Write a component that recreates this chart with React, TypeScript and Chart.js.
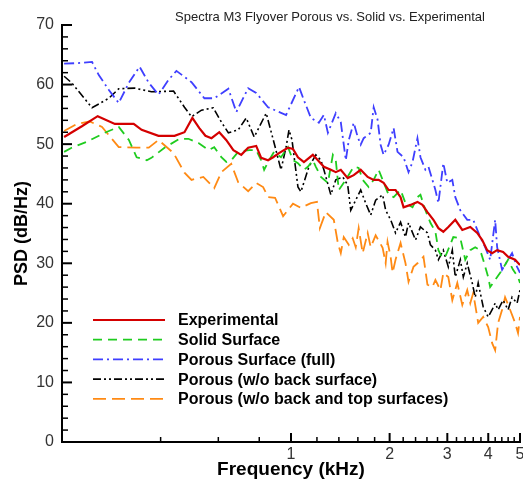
import React, { useEffect, useRef } from 'react';
import { Chart, registerables } from 'chart.js';

Chart.register(...registerables);

const FONT = '"Liberation Sans", Arial, Helvetica, sans-serif';

const chartTitle = 'Spectra M3 Flyover Porous vs. Solid vs. Experimental';
const xTitle = 'Frequency (kHz)';
const yTitle = 'PSD (dB/Hz)';

const seriesNames = [
  'Experimental',
  'Solid Surface',
  'Porous Surface (full)',
  'Porous (w/o back surface)',
  'Porous (w/o back and top surfaces)',
];

const xTickValues = [0.4, 0.6, 0.8, 1, 1.2, 1.4, 1.6, 1.8, 2, 2.2, 2.4, 2.6, 2.8, 3, 3.2, 3.4, 3.6, 3.8, 4, 4.2, 4.4, 4.6, 4.8, 5];
const xTickLabels = ['', '', '', '1', '', '', '', '', '2', '', '', '', '', '3', '', '', '', '', '4', '', '', '', '', '5'];
const yTickValues = [0, 2, 4, 6, 8, 10, 12, 14, 16, 18, 20, 22, 24, 26, 28, 30, 32, 34, 36, 38, 40, 42, 44, 46, 48, 50, 52, 54, 56, 58, 60, 62, 64, 66, 68, 70];
const yTickLabels = yTickValues.map((v) => (v % 10 === 0 ? String(v) : ''));

// Experimental
const expFreq = [0.203, 0.230, 0.257, 0.290, 0.331, 0.350, 0.394, 0.441, 0.473, 0.500, 0.525, 0.548, 0.572, 0.604, 0.634, 0.667, 0.705, 0.740, 0.783, 0.811, 0.851, 0.882, 0.919, 0.979, 1.014, 1.050, 1.095, 1.166, 1.208, 1.260, 1.323, 1.370, 1.419, 1.490, 1.554, 1.632, 1.714, 1.788, 1.851, 1.917, 1.986, 2.085, 2.160, 2.206, 2.316, 2.432, 2.519, 2.609, 2.721, 2.818, 2.917, 3.021, 3.173, 3.333, 3.525, 3.702, 3.834, 3.970, 4.111, 4.258, 4.440, 4.599, 4.830, 5.0];
const expPsd = [51.2, 53.0, 54.7, 53.4, 53.4, 52.4, 51.4, 51.4, 52.0, 54.4, 52.7, 51.4, 51.0, 52.0, 50.7, 49.0, 48.2, 49.4, 49.7, 47.7, 47.3, 47.8, 48.5, 49.4, 49.2, 47.8, 47.0, 48.2, 47.3, 46.2, 45.7, 45.3, 45.7, 44.3, 44.8, 45.7, 44.5, 44.0, 44.0, 43.5, 42.3, 42.3, 41.1, 39.4, 39.8, 40.3, 39.8, 38.6, 37.3, 35.9, 35.3, 36.1, 37.3, 35.6, 36.1, 35.1, 33.9, 32.2, 31.7, 32.2, 31.9, 31.1, 30.6, 29.7];

// Solid Surface
const solidFreq = [0.203, 0.214, 0.238, 0.270, 0.298, 0.320, 0.338, 0.363, 0.375, 0.411, 0.457, 0.486, 0.522, 0.560, 0.583, 0.613, 0.635, 0.657, 0.690, 0.745, 0.783, 0.811, 0.828, 0.857, 0.888, 0.932, 0.979, 1.014, 1.050, 1.095, 1.126, 1.166, 1.191, 1.234, 1.296, 1.342, 1.370, 1.399, 1.449, 1.554, 1.609, 1.655, 1.726, 1.788, 1.851, 1.917, 1.986, 2.057, 2.160, 2.236, 2.349, 2.432, 2.484, 2.572, 2.664, 2.759, 2.818, 2.897, 2.958, 3.129, 3.287, 3.403, 3.525, 3.650, 3.780, 3.860, 3.998, 4.054, 4.199, 4.409, 4.599, 4.763, 4.932, 5.0];
const solidPsd = [48.7, 49.4, 50.4, 51.9, 52.9, 50.7, 47.8, 47.3, 47.7, 49.4, 50.9, 50.9, 50.2, 49.0, 49.5, 47.8, 47.0, 47.3, 48.7, 49.0, 49.0, 47.3, 45.7, 47.3, 48.7, 47.8, 49.5, 47.3, 46.8, 45.7, 46.2, 47.3, 46.2, 44.5, 43.5, 48.2, 47.3, 42.3, 43.5, 46.2, 46.0, 44.0, 42.8, 44.0, 45.7, 43.6, 41.5, 41.1, 42.3, 40.1, 39.4, 41.1, 41.5, 38.9, 36.8, 35.3, 32.2, 30.9, 31.1, 34.4, 34.2, 30.6, 32.2, 32.7, 32.2, 30.6, 27.7, 26.0, 27.2, 28.9, 30.6, 28.9, 27.7, 26.7];

// Porous Surface (full)
const fullFreq = [0.203, 0.222, 0.247, 0.259, 0.278, 0.298, 0.320, 0.345, 0.368, 0.394, 0.423, 0.447, 0.497, 0.544, 0.583, 0.644, 0.681, 0.740, 0.783, 0.851, 0.966, 1.058, 1.095, 1.150, 1.216, 1.260, 1.296, 1.370, 1.419, 1.470, 1.501, 1.554, 1.598, 1.632, 1.667, 1.751, 1.788, 1.838, 1.877, 1.917, 1.986, 2.057, 2.114, 2.206, 2.284, 2.349, 2.432, 2.484, 2.572, 2.628, 2.759, 2.818, 2.917, 3.000, 3.107, 3.173, 3.287, 3.451, 3.599, 3.780, 3.914, 4.054, 4.199, 4.258, 4.409, 4.599, 4.729, 4.898, 5.0];
const fullPsd = [63.5, 63.6, 63.8, 61.6, 59.1, 56.9, 60.3, 63.0, 60.3, 58.3, 60.8, 62.3, 60.4, 57.7, 57.7, 59.3, 55.4, 59.4, 58.6, 56.2, 54.9, 59.6, 57.4, 54.4, 53.6, 54.9, 51.9, 55.2, 53.7, 47.3, 50.7, 53.6, 51.2, 49.9, 51.0, 51.9, 56.2, 54.1, 49.9, 48.2, 49.9, 52.7, 48.7, 47.8, 45.3, 47.0, 51.0, 47.8, 45.7, 46.2, 42.3, 40.1, 46.8, 43.5, 44.0, 41.1, 38.9, 37.3, 37.3, 34.4, 32.7, 30.6, 37.3, 32.7, 28.9, 30.6, 31.7, 29.4, 28.4];

// Porous (w/o back surface)
const backFreq = [0.203, 0.214, 0.247, 0.278, 0.298, 0.333, 0.375, 0.438, 0.473, 0.497, 0.533, 0.579, 0.613, 0.644, 0.690, 0.730, 0.772, 0.840, 0.888, 0.932, 0.966, 0.986, 1.007, 1.050, 1.072, 1.134, 1.191, 1.234, 1.260, 1.323, 1.370, 1.439, 1.490, 1.522, 1.576, 1.632, 1.690, 1.751, 1.813, 1.904, 1.945, 2.014, 2.085, 2.160, 2.236, 2.284, 2.399, 2.484, 2.609, 2.664, 2.759, 2.818, 2.917, 3.021, 3.107, 3.173, 3.287, 3.357, 3.451, 3.574, 3.650, 3.727, 3.860, 3.998, 4.111, 4.199, 4.287, 4.440, 4.599, 4.729, 4.898, 5.0];
const backPsd = [61.4, 60.3, 56.1, 57.7, 59.3, 59.4, 58.8, 58.9, 56.2, 54.6, 55.7, 56.1, 53.7, 51.9, 52.4, 54.4, 51.2, 55.2, 50.2, 45.7, 49.5, 52.4, 50.7, 42.8, 42.0, 46.2, 48.2, 47.3, 45.7, 41.5, 44.0, 44.5, 43.1, 38.9, 40.6, 42.3, 40.1, 38.1, 40.6, 41.5, 38.9, 37.3, 35.1, 36.9, 34.4, 36.8, 33.9, 36.1, 35.1, 33.1, 32.2, 30.6, 32.2, 29.4, 32.2, 27.7, 30.6, 27.7, 30.0, 26.7, 24.3, 26.7, 22.7, 21.0, 22.2, 23.3, 22.2, 23.8, 22.2, 24.3, 23.3, 25.5];

// Porous (w/o back and top surfaces)
const topFreq = [0.203, 0.222, 0.243, 0.265, 0.278, 0.298, 0.338, 0.368, 0.394, 0.438, 0.473, 0.497, 0.540, 0.583, 0.613, 0.657, 0.690, 0.740, 0.783, 0.822, 0.851, 0.894, 0.946, 1.014, 1.072, 1.150, 1.200, 1.225, 1.277, 1.351, 1.390, 1.419, 1.449, 1.501, 1.543, 1.576, 1.609, 1.655, 1.714, 1.751, 1.813, 1.904, 1.945, 1.971, 2.014, 2.042, 2.085, 2.160, 2.236, 2.284, 2.365, 2.432, 2.537, 2.609, 2.701, 2.759, 2.858, 2.917, 3.021, 3.107, 3.218, 3.333, 3.451, 3.525, 3.599, 3.727, 3.860, 3.998, 4.111, 4.199, 4.287, 4.409, 4.502, 4.664, 4.830, 4.932, 5.0];
const topPsd = [52.2, 53.4, 53.8, 52.9, 51.5, 49.5, 49.4, 49.4, 50.7, 48.5, 45.2, 44.0, 44.5, 42.6, 45.3, 46.7, 43.6, 42.1, 43.5, 42.8, 41.1, 41.0, 37.9, 40.0, 39.3, 40.1, 40.3, 35.9, 38.6, 37.3, 33.4, 31.7, 34.4, 33.1, 34.2, 32.7, 35.9, 31.7, 35.1, 32.7, 34.7, 32.6, 30.0, 33.6, 31.1, 28.4, 30.6, 33.4, 30.0, 26.9, 29.4, 30.0, 31.1, 26.4, 26.0, 27.2, 25.5, 28.4, 27.7, 23.8, 26.7, 23.0, 25.5, 23.3, 25.0, 20.0, 21.0, 19.3, 16.6, 15.4, 20.0, 22.2, 24.3, 22.2, 20.0, 18.3, 21.0];

const toPoints = (xs: number[], ys: number[]) => xs.map((x, i) => ({ x, y: ys[i] }));

const decorPlugin = {
  id: 'decor',
  afterDraw(chart: any) {
    const { ctx, chartArea, scales } = chart;
    ctx.save();
    ctx.strokeStyle = '#000';
    ctx.setLineDash([]);
    // inward x ticks
    scales.x.ticks.forEach((t: any, i: number) => {
      const px = scales.x.getPixelForValue(t.value);
      const major = xTickLabels[i] !== '';
      ctx.lineWidth = major ? 2 : 1.5;
      ctx.beginPath();
      ctx.moveTo(px, chartArea.bottom);
      ctx.lineTo(px, chartArea.bottom - (major ? 9 : 5));
      ctx.stroke();
    });
    // inward y ticks
    scales.y.ticks.forEach((t: any, i: number) => {
      const py = scales.y.getPixelForValue(t.value);
      const major = yTickLabels[i] !== '';
      ctx.lineWidth = major ? 2 : 1.5;
      ctx.beginPath();
      ctx.moveTo(chartArea.left, py);
      ctx.lineTo(chartArea.left + (major ? 10 : 6), py);
      ctx.stroke();
    });
    // title
    ctx.font = `13px ${FONT}`;
    ctx.fillStyle = '#222';
    ctx.textAlign = 'center';
    ctx.textBaseline = 'middle';
    ctx.fillText(chartTitle, 330, 17);
    // legend
    ctx.font = `bold 16px ${FONT}`;
    ctx.textAlign = 'left';
    chart.data.datasets.forEach((ds: any, i: number) => {
      const y = 320 + i * 19.7;
      ctx.strokeStyle = ds.borderColor;
      ctx.lineWidth = ds.borderWidth;
      ctx.setLineDash(ds.borderDash || []);
      ctx.beginPath();
      ctx.moveTo(93, y);
      ctx.lineTo(165, y);
      ctx.stroke();
      ctx.setLineDash([]);
      ctx.fillStyle = '#000';
      ctx.fillText(ds.label, 178, y + 1);
    });
    ctx.restore();
  },
};

export default function App() {
  const ref = useRef<HTMLCanvasElement>(null);
  useEffect(() => {
    Chart.defaults.font.family = FONT;
    const chart = new Chart(ref.current as HTMLCanvasElement, {
      type: 'line',
      data: {
        datasets: [
          { label: seriesNames[0], data: toPoints(expFreq, expPsd), borderColor: '#d40000', borderWidth: 2.2, borderDash: [] },
          { label: seriesNames[1], data: toPoints(solidFreq, solidPsd), borderColor: '#1fcc1f', borderWidth: 1.8, borderDash: [9, 6] },
          { label: seriesNames[2], data: toPoints(fullFreq, fullPsd), borderColor: '#3f3fff', borderWidth: 1.8, borderDash: [10, 4, 2, 4] },
          { label: seriesNames[3], data: toPoints(backFreq, backPsd), borderColor: '#000000', borderWidth: 1.6, borderDash: [8, 3, 2, 3, 2, 3] },
          { label: seriesNames[4], data: toPoints(topFreq, topPsd), borderColor: '#ff8a14', borderWidth: 1.8, borderDash: [13, 6] },
        ] as any,
      },
      options: {
        animation: false,
        responsive: false,
        devicePixelRatio: 1,
        layout: { padding: { top: 25, right: 3, left: 0, bottom: 0 } },
        elements: { point: { radius: 0 }, line: { tension: 0, fill: false } },
        plugins: { legend: { display: false }, tooltip: { enabled: false }, title: { display: false } },
        scales: {
          x: {
            type: 'logarithmic',
            position: 'bottom',
            min: 0.2,
            max: 5,
            grid: { display: false, drawTicks: false },
            border: { display: true, color: '#000', width: 2 },
            ticks: {
              autoSkip: false,
              maxRotation: 0,
              minRotation: 0,
              padding: 3,
              color: '#333',
              font: { size: 16 },
              callback: (_v: any, i: number) => xTickLabels[i],
            },
            title: { display: true, text: xTitle, color: '#000', font: { size: 19, weight: 'bold' }, padding: { top: 0, bottom: 0 } },
            afterBuildTicks: (s: any) => { s.ticks = xTickValues.map((v) => ({ value: v })); },
            afterFit: (s: any) => { s.height = 39; s.paddingLeft = 0; s.paddingRight = 0; },
          },
          y: {
            type: 'linear',
            min: 0,
            max: 70,
            grid: { display: false, drawTicks: false },
            border: { display: true, color: '#000', width: 2 },
            ticks: {
              autoSkip: false,
              padding: 8,
              color: '#333',
              font: { size: 16 },
              callback: (_v: any, i: number) => yTickLabels[i],
            },
            title: { display: true, text: yTitle, color: '#000', font: { size: 18, weight: 'bold' }, padding: { top: 11, bottom: 0 } },
            afterBuildTicks: (s: any) => { s.ticks = yTickValues.map((v) => ({ value: v })); },
            afterFit: (s: any) => { s.width = 62; s.paddingTop = 0; s.paddingBottom = 0; },
          },
        } as any,
      },
      plugins: [decorPlugin],
    } as any);
    return () => chart.destroy();
  }, []);
  return (
    <div style={{ position: 'absolute', left: 0, top: 0, width: 523, height: 481 }}>
      <canvas ref={ref} width={523} height={481} style={{ display: 'block', width: 523, height: 481 }} />
    </div>
  );
}
